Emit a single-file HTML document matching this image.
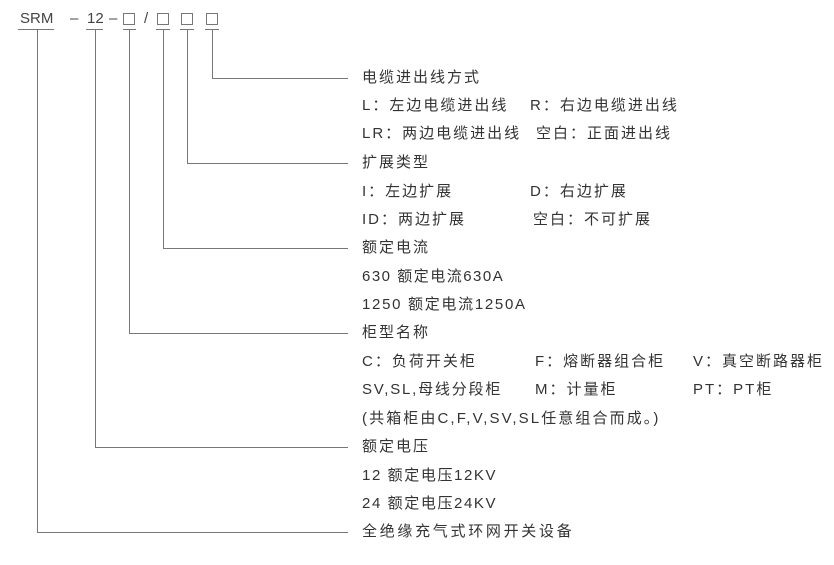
<!DOCTYPE html>
<html><head><meta charset="utf-8"><style>
html,body{margin:0;padding:0;background:#fff;}
body{width:834px;height:565px;position:relative;overflow:hidden;font-family:"Liberation Sans","Noto Sans CJK SC",sans-serif;color:#333;}
.t{position:absolute;font-size:15px;line-height:20px;letter-spacing:2px;white-space:nowrap;}
.h{position:absolute;font-size:15px;line-height:20px;top:9px;color:#444;white-space:nowrap;}
svg{position:absolute;left:0;top:0;}
</style></head><body>
<svg width="834" height="565">
<g stroke="#777" stroke-width="1" fill="none">
<line x1="18" y1="29.5" x2="54" y2="29.5"/>
<line x1="86" y1="29.5" x2="103" y2="29.5"/>
<line x1="123" y1="29.5" x2="136" y2="29.5"/>
<line x1="156" y1="29.5" x2="170" y2="29.5"/>
<line x1="180" y1="29.5" x2="194" y2="29.5"/>
<line x1="205" y1="29.5" x2="219" y2="29.5"/>
<polyline points="37.5,30 37.5,532.5 348,532.5"/>
<polyline points="95.5,30 95.5,447.5 348,447.5"/>
<polyline points="129.5,30 129.5,333.5 348,333.5"/>
<polyline points="163.5,30 163.5,248.5 348,248.5"/>
<polyline points="187.5,30 187.5,163.5 348,163.5"/>
<polyline points="212.5,30 212.5,78.5 348,78.5"/>
<rect x="123.5" y="13.5" width="11" height="11"/>
<rect x="157.5" y="13.5" width="11" height="11"/>
<rect x="181.5" y="13.5" width="11" height="11"/>
<rect x="206.5" y="13.5" width="11" height="11"/>
</g>
</svg>
<div class="h" style="left:20px">SRM</div>
<div class="h" style="left:70px">–</div>
<div class="h" style="left:87px">12</div>
<div class="h" style="left:109px">–</div>
<div class="h" style="left:144px">/</div>

<div class="t" style="left:362px;top:68px">电缆进出线方式</div>
<div class="t" style="left:362px;top:96px">L：左边电缆进出线</div>
<div class="t" style="left:530px;top:96px">R：右边电缆进出线</div>
<div class="t" style="left:362px;top:124px">LR：两边电缆进出线</div>
<div class="t" style="left:536px;top:124px">空白：正面进出线</div>
<div class="t" style="left:362px;top:153px">扩展类型</div>
<div class="t" style="left:362px;top:182px">I：左边扩展</div>
<div class="t" style="left:530px;top:182px">D：右边扩展</div>
<div class="t" style="left:362px;top:210px">ID：两边扩展</div>
<div class="t" style="left:533px;top:210px">空白：不可扩展</div>
<div class="t" style="left:362px;top:238px">额定电流</div>
<div class="t" style="left:362px;top:267px;letter-spacing:1.5px">630 额定电流630A</div>
<div class="t" style="left:362px;top:295px;letter-spacing:1.7px">1250 额定电流1250A</div>
<div class="t" style="left:362px;top:323px">柜型名称</div>
<div class="t" style="left:362px;top:352px">C：负荷开关柜</div>
<div class="t" style="left:535px;top:352px">F：熔断器组合柜</div>
<div class="t" style="left:693px;top:352px">V：真空断路器柜</div>
<div class="t" style="left:362px;top:380px;letter-spacing:1.8px">SV,SL,母线分段柜</div>
<div class="t" style="left:535px;top:380px">M：计量柜</div>
<div class="t" style="left:693px;top:380px">PT：PT柜</div>
<div class="t" style="left:362px;top:409px;letter-spacing:2.1px">(共箱柜由C,F,V,SV,SL任意组合而成。)</div>
<div class="t" style="left:362px;top:437px">额定电压</div>
<div class="t" style="left:362px;top:466px;letter-spacing:1.6px">12 额定电压12KV</div>
<div class="t" style="left:362px;top:494px;letter-spacing:1.6px">24 额定电压24KV</div>
<div class="t" style="left:362px;top:522px;letter-spacing:2.7px">全绝缘充气式环网开关设备</div>
</body></html>
